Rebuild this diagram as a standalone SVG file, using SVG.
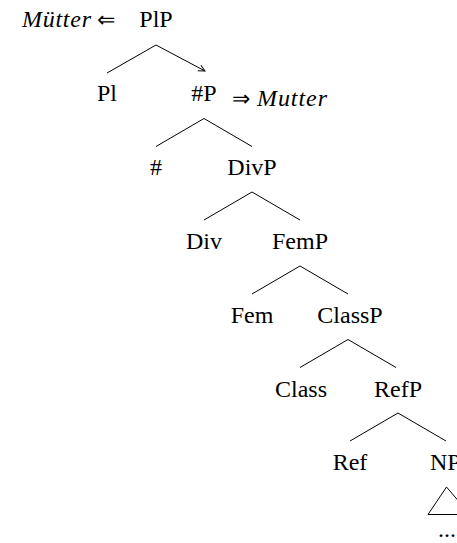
<svg xmlns="http://www.w3.org/2000/svg" width="457" height="543" viewBox="0 0 457 543">
<style>
text{font-family:"Liberation Serif","DejaVu Serif",serif;font-size:24px;fill:#000}
.n{text-anchor:middle}
.i{font-style:italic}
.a{font-family:"DejaVu Sans",sans-serif;font-size:22px;font-weight:200}
.e line,.e path{stroke:#000;stroke-width:1;fill:none}
</style>
<defs>
<marker id="ah" viewBox="0 0 10 10" refX="9" refY="5" markerWidth="8" markerHeight="8" orient="auto" markerUnits="userSpaceOnUse">
<path d="M1,1 L9,5 L1,9" fill="none" stroke="#000" stroke-width="1.2"/>
</marker>
</defs>
<rect width="457" height="543" fill="#fff"/>
<g class="e" id="connectors">
<line x1="156" y1="45" x2="107" y2="73"/>
<line x1="156" y1="45" x2="205" y2="71" marker-end="url(#ah)"/>
<line x1="204" y1="118.5" x2="156" y2="146.5"/>
<line x1="204" y1="118.5" x2="252" y2="146.5"/>
<line x1="252" y1="192" x2="204" y2="220"/>
<line x1="252" y1="192" x2="300" y2="220"/>
<line x1="300" y1="266" x2="252" y2="294"/>
<line x1="300" y1="266" x2="348" y2="294"/>
<line x1="348" y1="339.5" x2="300" y2="367.5"/>
<line x1="348" y1="339.5" x2="396" y2="367.5"/>
<line x1="398" y1="413" x2="350" y2="441"/>
<line x1="398" y1="413" x2="446" y2="441"/>
<path d="M446.5,487 L428,514.5 L470,514.5 Z"/>
</g>
<g id="PlP"><text class="n" x="156" y="27">PlP</text></g>
<g id="Mutter-in"><text class="i" x="22" y="27" textLength="69">Mütter</text><text class="a" x="97" y="27">⇐</text></g>
<g id="Pl"><text class="n" x="107" y="101">Pl</text></g>
<g id="hashP"><text class="n" x="204" y="101">#P</text></g>
<g id="Mutter-out"><text class="a" x="232" y="106">⇒</text><text class="i" x="257" y="106" textLength="70">Mutter</text></g>
<g id="hash"><text class="n" x="156" y="175">#</text></g>
<g id="DivP"><text class="n" x="252" y="175">DivP</text></g>
<g id="Div"><text class="n" x="204" y="249">Div</text></g>
<g id="FemP"><text class="n" x="300" y="249">FemP</text></g>
<g id="Fem"><text class="n" x="252" y="323">Fem</text></g>
<g id="ClassP"><text class="n" x="350" y="323">ClassP</text></g>
<g id="Class"><text class="n" x="301" y="397">Class</text></g>
<g id="RefP"><text class="n" x="398" y="397">RefP</text></g>
<g id="Ref"><text class="n" x="350" y="470">Ref</text></g>
<g id="NP"><text x="430" y="470">NP</text></g>
<g id="dots"><text class="n" x="447" y="537">...</text></g>
</svg>
